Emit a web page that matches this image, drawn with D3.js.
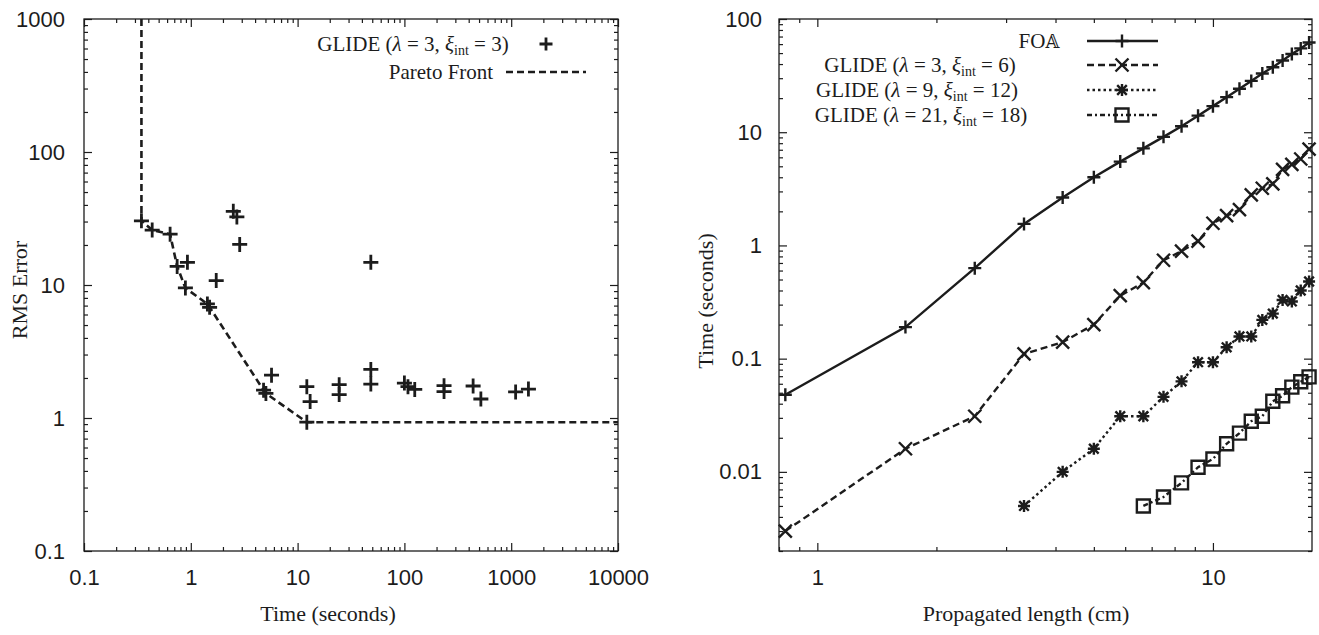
<!DOCTYPE html>
<html>
<head>
<meta charset="utf-8">
<script src="https://cdn.jsdelivr.net/npm/d3@7"></script>
<style>
  html, body { margin: 0; padding: 0; background: #fff; }
  svg { display: block; }
</style>
</head>
<body>
<script>
// ---------------- DATA ----------------
// Left panel: RMS error vs time
const leftXTickLabels = ["0.1", "1", "10", "100", "1000", "10000"];
const leftYTickLabels = ["0.1", "1", "10", "100", "1000"];

const glideTime = [0.345, 0.435, 0.64, 0.745, 0.93, 0.89, 1.43, 1.5, 1.73, 2.5, 2.7, 2.87,
  4.8, 5.05, 5.7, 12.2, 13.1, 12.2, 24.5, 24.5, 48.5, 48.5, 48.5, 100, 108, 125, 235, 235,
  440, 520, 1100, 1450];
const glideRms = [30.4, 25.9, 24.1, 13.8, 14.8, 9.5, 7.2, 6.8, 10.8, 35.8, 32.5, 20.2,
  1.62, 1.53, 2.1, 1.72, 1.33, 0.93, 1.78, 1.5, 14.8, 2.32, 1.8, 1.83, 1.72, 1.64, 1.75, 1.58,
  1.74, 1.39, 1.57, 1.65];

const paretoTime = [0.345, 0.345, 0.435, 0.64, 0.745, 0.89, 1.43, 1.5, 4.8, 5.05, 12.2, 10000];
const paretoRms  = [1000, 30.4, 25.9, 24.1, 13.8, 9.5, 7.2, 6.8, 1.62, 1.53, 0.93, 0.93];

const leftSeriesNames = ["GLIDE", "Pareto Front"];
const leftLambda = 3, leftXi = 3;

// Right panel: time vs propagated length
const rightXTickLabels = ["1", "10"];
const rightYTickLabels = ["0.01", "0.1", "1", "10", "100"];

const lengthAll = [0.83, 1.67, 2.5, 3.33, 4.17, 5, 5.83, 6.67, 7.5, 8.33, 9.17, 10,
  10.83, 11.67, 12.5, 13.33, 14.17, 15, 15.83, 16.67, 17.5];
const foaTime = [0.048, 0.19, 0.63, 1.55, 2.65, 4.0, 5.5, 7.2, 9.1, 11.3, 14.0, 17.0,
  20.4, 24.2, 28.4, 33.0, 37.5, 43, 49, 55, 62];

const glide3Time = [0.003, 0.016, 0.031, 0.11, 0.14, 0.20, 0.36, 0.47, 0.74, 0.89, 1.09, 1.57,
  1.83, 2.07, 2.8, 3.2, 3.5, 4.7, 5.2, 5.8, 7.1];

const length9 = [3.33, 4.17, 5, 5.83, 6.67, 7.5, 8.33, 9.17, 10,
  10.83, 11.67, 12.5, 13.33, 14.17, 15, 15.83, 16.67, 17.5];
const glide9Time = [0.005, 0.01, 0.016, 0.031, 0.031, 0.046, 0.063, 0.093, 0.093,
  0.126, 0.157, 0.157, 0.22, 0.25, 0.33, 0.32, 0.40, 0.48];

const length21 = [6.67, 7.5, 8.33, 9.17, 10, 10.83, 11.67, 12.5, 13.33, 14.17, 15, 15.83, 16.67, 17.5];
const glide21Time = [0.005, 0.006, 0.008, 0.011, 0.013, 0.0177, 0.022, 0.028, 0.031, 0.042,
  0.047, 0.056, 0.0625, 0.069];

const rightSeriesNames = ["FO", "GLIDE", "GLIDE", "GLIDE"];
const rightLambda = [3, 9, 21];
const rightXi = [6, 12, 18];

// ---------------- RENDER ----------------
const W = 1319, H = 635;
const INK = "#1c1c1c";
const SANS = "'Liberation Sans', Arial, Helvetica, sans-serif";
const SERIF = "'Liberation Serif', 'Times New Roman', serif";

const svg = d3.select("body").append("svg").attr("width", W).attr("height", H)
  .style("background", "#fff");

const LP = { x0: 84, x1: 618, y0: 19, y1: 551 };
const RP = { x0: 779, x1: 1312, y0: 19, y1: 551 };

const lx = d3.scaleLog().domain([0.1, 10000]).range([LP.x0, LP.x1]);
const ly = d3.scaleLog().domain([0.1, 1000]).range([LP.y1, LP.y0]);
const rx = d3.scaleLog().domain([0.8, 17.8]).range([RP.x0, RP.x1]);
const ry = d3.scaleLog().domain([0.002, 100]).range([RP.y1, RP.y0]);

const mk = {
  plus: s => `M${-s},0H${s}M0,${-s}V${s}`,
  cross: s => `M${-s},${-s}L${s},${s}M${-s},${s}L${s},${-s}`,
  star: s => `M${-s},0H${s}M0,${-s}V${s}` + `M${-s*0.8},${-s*0.8}L${s*0.8},${s*0.8}M${-s*0.8},${s*0.8}L${s*0.8},${-s*0.8}`,
  square: s => `M${-s},${-s}H${s}V${s}H${-s}Z`
};

function frame(P, x, y, xLabels, yLabels, padY) {
  const g = svg.append("g").attr("color", INK);
  const xMaj = xLabels.map(Number), yMaj = yLabels.map(Number);
  const isMaj = (arr, v) => arr.some(m => Math.abs(m - v) / m < 1e-6);
  const xMin = x.ticks().filter(v => !isMaj(xMaj, v));
  const yMin = y.ticks().filter(v => !isMaj(yMaj, v));

  const add = (axis, tr) => {
    const a = g.append("g").attr("transform", tr).call(axis);
    a.select(".domain").remove();
    a.selectAll("line").attr("stroke-width", 1.2);
    a.attr("font-family", SANS).attr("font-size", 22);
    a.selectAll("text").attr("fill", INK);
    return a;
  };
  // minor ticks
  add(d3.axisBottom(x).tickValues(xMin).tickSize(-4).tickFormat(""), `translate(0,${P.y1})`);
  add(d3.axisTop(x).tickValues(xMin).tickSize(-4).tickFormat(""), `translate(0,${P.y0})`);
  add(d3.axisLeft(y).tickValues(yMin).tickSize(-4).tickFormat(""), `translate(${P.x0},0)`);
  add(d3.axisRight(y).tickValues(yMin).tickSize(-4).tickFormat(""), `translate(${P.x1},0)`);
  // major ticks
  add(d3.axisBottom(x).tickValues(xMaj).tickSize(-8).tickPadding(18)
      .tickFormat((d, i) => xLabels[i]), `translate(0,${P.y1})`);
  add(d3.axisTop(x).tickValues(xMaj).tickSize(-8).tickFormat(""), `translate(0,${P.y0})`);
  add(d3.axisLeft(y).tickValues(yMaj).tickSize(-8).tickPadding(padY)
      .tickFormat((d, i) => yLabels[i]), `translate(${P.x0},0)`);
  add(d3.axisRight(y).tickValues(yMaj).tickSize(-8).tickFormat(""), `translate(${P.x1},0)`);

  g.append("rect").attr("x", P.x0).attr("y", P.y0)
    .attr("width", P.x1 - P.x0).attr("height", P.y1 - P.y0)
    .attr("fill", "none").attr("stroke", INK).attr("stroke-width", 1.3);
}

function serifText(x, y, str, rotate, size) {
  const t = svg.append("text").attr("font-family", SERIF).attr("font-size", size || 22)
    .attr("fill", INK).attr("text-anchor", "middle").text(str);
  if (rotate) t.attr("transform", `translate(${x},${y}) rotate(-90)`);
  else t.attr("x", x).attr("y", y);
  return t;
}

function glideLabel(x, y, name, lam, xi) {
  const t = svg.append("text").attr("x", x).attr("y", y)
    .attr("font-family", SERIF).attr("font-size", 21).attr("fill", INK)
    .attr("text-anchor", "middle");
  t.append("tspan").text(name + " (");
  t.append("tspan").attr("font-style", "italic").text("λ");
  t.append("tspan").text(` = ${lam}, `);
  t.append("tspan").attr("font-style", "italic").text("ξ");
  t.append("tspan").attr("font-size", 14).attr("dy", 3.5).text("int");
  t.append("tspan").attr("dy", -3.5).text(` = ${xi})`);
  return t;
}

function drawLine(x, y, xs, ys, dash, width) {
  const line = d3.line().x(d => x(d[0])).y(d => y(d[1]));
  svg.append("path").datum(d3.zip(xs, ys)).attr("d", line)
    .attr("fill", "none").attr("stroke", INK).attr("stroke-width", width)
    .attr("stroke-dasharray", dash).attr("stroke-linejoin", "miter");
}

function drawMarks(x, y, xs, ys, shape, size, sw) {
  svg.append("g").selectAll("path").data(d3.zip(xs, ys)).join("path")
    .attr("transform", d => `translate(${x(d[0])},${y(d[1])})`)
    .attr("d", mk[shape](size)).attr("fill", "none")
    .attr("stroke", INK).attr("stroke-width", sw);
}

// ----- Left panel -----
frame(LP, lx, ly, leftXTickLabels, leftYTickLabels, 19);
drawLine(lx, ly, paretoTime, paretoRms, "7,4", 2.6);
drawMarks(lx, ly, glideTime, glideRms, "plus", 7.5, 2.8);

serifText(27, 290, "RMS Error", true);
serifText(328, 621, "Time (seconds)");

// left legend
glideLabel(413, 51, leftSeriesNames[0], leftLambda, leftXi);
svg.append("path").attr("transform", "translate(546,44)").attr("d", mk.plus(6.5))
  .attr("stroke", INK).attr("stroke-width", 2.8).attr("fill", "none");
serifText(441, 79, leftSeriesNames[1], false, 21);
svg.append("line").attr("x1", 506).attr("x2", 586).attr("y1", 72).attr("y2", 72)
  .attr("stroke", INK).attr("stroke-width", 2.6).attr("stroke-dasharray", "7,4");

// ----- Right panel -----
frame(RP, rx, ry, rightXTickLabels, rightYTickLabels, 17);

const rSeries = [
  { xs: lengthAll, ys: foaTime, dash: null, shape: "plus", size: 6.5 },
  { xs: lengthAll, ys: glide3Time, dash: "7,4", shape: "cross", size: 6.5 },
  { xs: length9, ys: glide9Time, dash: "2.5,3", shape: "star", size: 6 },
  { xs: length21, ys: glide21Time, dash: "5,3,2,3", shape: "square", size: 6.5 }
];
rSeries.forEach(s => {
  drawLine(rx, ry, s.xs, s.ys, s.dash, 2.4);
  drawMarks(rx, ry, s.xs, s.ys, s.shape, s.size, 2.4);
});

serifText(713, 301, "Time (seconds)", true);
serifText(1026, 621, "Propagated length (cm)");

// right legend
const rowY = [41, 65, 90, 115];
const foaT = svg.append("text").attr("x", 1039).attr("y", rowY[0] + 7)
  .attr("font-family", SERIF).attr("font-size", 21).attr("fill", INK)
  .attr("text-anchor", "middle").text(rightSeriesNames[0]);
foaT.append("tspan").attr("font-family", "'DejaVu Serif', 'DejaVu Sans', serif").attr("font-size", 18).text("𝔸");
glideLabel(920, rowY[1] + 7, rightSeriesNames[1], rightLambda[0], rightXi[0]);
glideLabel(917, rowY[2] + 7, rightSeriesNames[2], rightLambda[1], rightXi[1]);
glideLabel(921, rowY[3] + 7, rightSeriesNames[3], rightLambda[2], rightXi[2]);
rSeries.forEach((s, i) => {
  svg.append("line").attr("x1", 1087).attr("x2", 1158).attr("y1", rowY[i]).attr("y2", rowY[i])
    .attr("stroke", INK).attr("stroke-width", 2.4).attr("stroke-dasharray", s.dash);
  svg.append("path").attr("transform", `translate(1122,${rowY[i]})`).attr("d", mk[s.shape](s.size))
    .attr("stroke", INK).attr("stroke-width", 2.4).attr("fill", "none");
});
</script>
</body>
</html>
